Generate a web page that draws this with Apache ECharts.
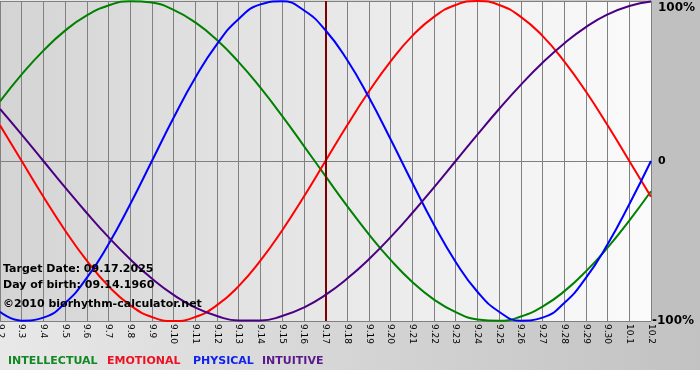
<!DOCTYPE html>
<html><head><meta charset="utf-8">
<script src="https://cdn.jsdelivr.net/npm/echarts@6/dist/echarts.min.js"></script>
<style>html,body{margin:0;padding:0;background:#fff}#c{width:700px;height:380px}</style>
</head><body><div id="c"></div>
<script>
const days = ['9.2','9.3','9.4','9.5','9.6','9.7','9.8','9.9','9.10','9.11','9.12','9.13','9.14','9.15','9.16','9.17','9.18','9.19','9.20','9.21','9.22','9.23','9.24','9.25','9.26','9.27','9.28','9.29','9.30','10.1','10.2'];
const intellectual = [37.2,54.1,69.0,81.5,91.0,97.2,99.9,99.0,94.5,86.6,75.6,61.8,45.8,28.2,9.5,-9.5,-28.2,-45.8,-61.8,-75.6,-86.6,-94.5,-99.0,-99.9,-97.2,-91.0,-81.5,-69.0,-54.1,-37.2,-18.9];
const emotional = [22.3,0,-22.3,-43.4,-62.3,-78.2,-90.1,-97.5,-100,-97.5,-90.1,-78.2,-62.3,-43.4,-22.3,0,22.3,43.4,62.3,78.2,90.1,97.5,100,97.5,90.1,78.2,62.3,43.4,22.3,0,-22.3];
const physical = [-94.2,-99.8,-97.9,-88.8,-73.1,-52.0,-27.0,0,27.0,52.0,73.1,88.8,97.9,99.8,94.2,81.7,63.1,39.8,13.6,-13.6,-39.8,-63.1,-81.7,-94.2,-99.8,-97.9,-88.8,-73.1,-52.0,-27.0,0];
const intuitive = [32.5,16.5,0,-16.5,-32.5,-47.6,-61.4,-73.5,-83.7,-91.6,-96.9,-99.7,-99.7,-96.9,-91.6,-83.7,-73.5,-61.4,-47.6,-32.5,-16.5,0,16.5,32.5,47.6,61.4,73.5,83.7,91.6,96.9,99.7];
const targetDay = '9.17';
const infoLines = ['Target Date: 09.17.2025','Day of birth: 09.14.1960','©2010 biorhythm-calculator.net'];
const legendNames = ['INTELLECTUAL','EMOTIONAL','PHYSICAL','INTUITIVE'];

const colors = ['#008000','#ff0000','#0000ff','#4b0082'];
const legendColors = ['#118822','#ee1122','#1122ee','#5a1a8a'];
const seriesData = [intellectual, emotional, physical, intuitive];
const legendX = [8, 107, 193, 262];

const chart = echarts.init(document.getElementById('c'), null, {renderer:'canvas'});
const font = 'DejaVu Sans';
const series = seriesData.map((d,i)=>({
  name: legendNames[i], type:'line', data:d, smooth:true, symbol:'none',
  lineStyle:{color:colors[i], width:2}, z: 3+i
}));
series[0].markLine = {
  silent:true, symbol:'none', label:{show:false},
  lineStyle:{color:'#800000', width:2, type:'solid'},
  data:[{xAxis: targetDay}]
};
const graphic = [
  {type:'rect', z:-100, shape:{x:0,y:0,width:700,height:380}, style:{fill:new echarts.graphic.LinearGradient(0,0,1,0,[{offset:0,color:'#e8e8e8'},{offset:1,color:'#c2c2c2'}])}, silent:true},
  {type:'rect', z:-99, shape:{x:651,y:0,width:49,height:321}, style:{fill:'#c0c0c0'}, silent:true},
  {type:'rect', z:-99, shape:{x:0,y:370,width:700,height:10}, style:{fill:'#ffffff'}, silent:true}
];
const infoY = [271, 287, 306];
infoLines.forEach((t,i)=>graphic.push({type:'text', z:50, left:3, top:infoY[i]-7, style:{text:t, font:'bold 11px '+font, fill:'#000'}}));
legendNames.forEach((t,i)=>graphic.push({type:'text', z:50, left:legendX[i], top:356, style:{text:t, font:'bold 11px '+font, fill:legendColors[i]}}));

chart.setOption({
  animation:false,
  backgroundColor:'transparent',
  grid:{left:0, right:49, top:1, bottom:59, show:true, borderWidth:0, containLabel:false, outerBoundsMode:'none',
    backgroundColor:new echarts.graphic.LinearGradient(0,0,1,0,[{offset:0,color:'#d4d4d4'},{offset:1,color:'#fbfbfb'}])},
  xAxis:{type:'category', data:days, boundaryGap:false,
    axisLine:{show:true, lineStyle:{color:'#808080', width:1}},
    axisTick:{show:true, length:3, alignWithLabel:true, lineStyle:{color:'#808080'}},
    splitLine:{show:true, lineStyle:{color:'#808080', width:1}},
    axisLabel:{rotate:-90, interval:0, margin:3, fontFamily:font, fontSize:9, color:'#000'}},
  yAxis:{type:'value', min:-100, max:100, interval:100, position:'right',
    axisLine:{show:false}, axisTick:{show:false},
    splitLine:{show:true, lineStyle:{color:'#808080', width:1}},
    axisLabel:{margin:5, fontFamily:font, fontSize:12, fontWeight:'bold', color:'#000',
      formatter:v=> v===100 ? '{t|100%}' : (v===-100 ? '{b|-100%}' : '{z|0}'),
      rich:{t:{padding:[14,0,0,2], fontFamily:font, fontSize:12, fontWeight:'bold', color:'#000'},
            b:{padding:[0,0,0,-4], fontFamily:font, fontSize:12, fontWeight:'bold', color:'#000'},
            z:{padding:[0,0,0,2], fontFamily:font, fontSize:11, fontWeight:'bold', color:'#000'}}}},
  series, graphic
});
</script></body></html>
